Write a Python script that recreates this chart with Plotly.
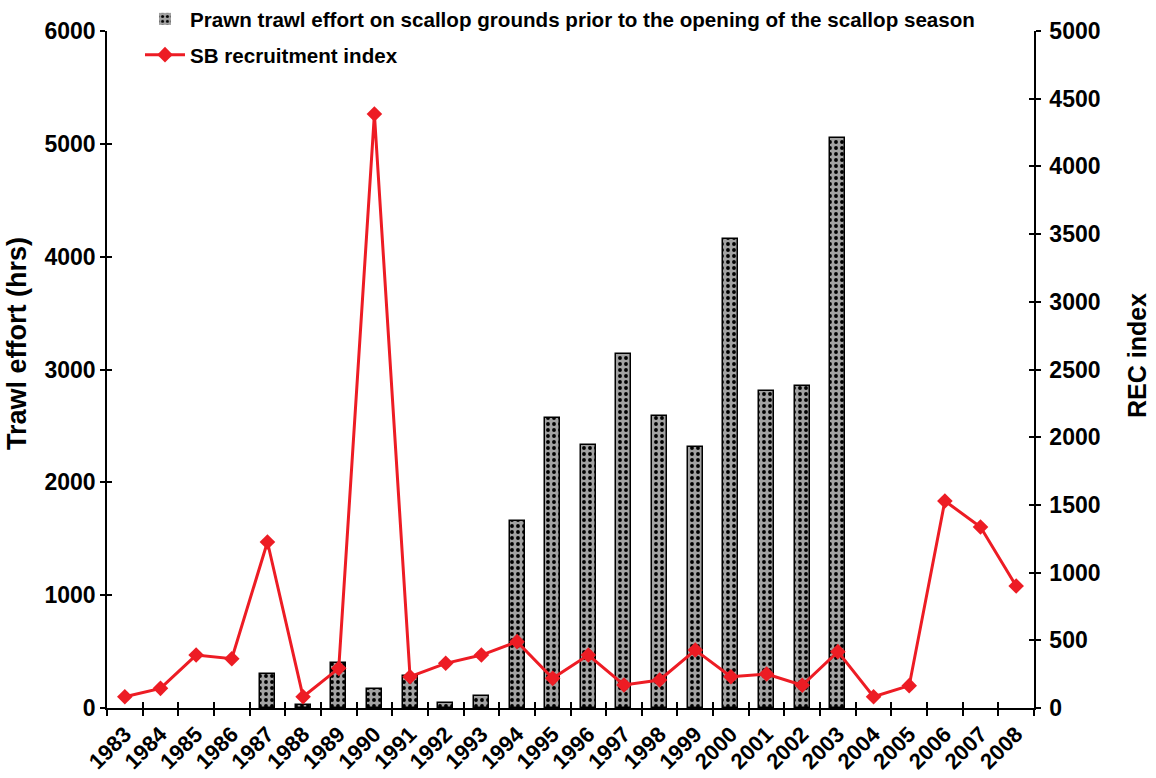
import plotly.graph_objects as go

# Season years
years = list(range(1983, 2009))

# Prawn trawl effort on scallop grounds before season opening (hrs)
trawl_effort = [0, 0, 0, 0, 300, 30, 402, 166, 284, 44, 106, 1657,
                2570, 2331, 3137, 2588, 2313, 4157, 2810, 2854, 5052,
                0, 0, 0, 0, 0]

# SB recruitment index
rec_index = [83, 145, 391, 364, 1226, 83, 293, 4387, 231, 330, 391, 490,
             219, 391, 170, 207, 428, 231, 251, 168, 416, 83, 165, 1529,
             1337, 901]

left_ticks = [0, 1000, 2000, 3000, 4000, 5000, 6000]
right_ticks = [0, 500, 1000, 1500, 2000, 2500, 3000, 3500, 4000, 4500, 5000]
year_labels = [str(y) for y in years]
boundaries = [y - 0.5 for y in years] + [years[-1] + 0.5]

FONT = "Liberation Sans, Arial, sans-serif"
RED = "#ed1c24"
GREY = "#a2a2a2"

# no outline on years without any recorded effort
bar_edge = [0 if v == 0 else 1.5 for v in trawl_effort]

fig = go.Figure()

fig.add_trace(go.Bar(
    x=years, y=trawl_effort, width=0.42,
    name="Prawn trawl effort on scallop grounds prior to the opening of the scallop season",
    marker=dict(
        color=GREY,
        line=dict(color="black", width=bar_edge),
        pattern=dict(shape=".", fgcolor="black", bgcolor=GREY,
                     size=6, solidity=0.32, fillmode="replace"),
    ),
    legendgroup="a",
))

fig.add_trace(go.Scatter(
    x=years, y=rec_index, yaxis="y2", mode="lines+markers",
    name="SB recruitment index",
    line=dict(color=RED, width=3),
    marker=dict(symbol="diamond", size=12, color=RED),
    legendgroup="b",
))

# empty traces so the tick-crossing helper axes get drawn
fig.add_trace(go.Scatter(x=[], y=[], xaxis="x2", yaxis="y3", showlegend=False, hoverinfo="skip"))
fig.add_trace(go.Scatter(x=[], y=[], xaxis="x2", yaxis="y4", showlegend=False, hoverinfo="skip"))

PL, PR, PT, PB = 107, 1034, 31, 708   # plot area edges in pixels
PW, PH = PR - PL, PB - PT

xr = [1982.5, 2008.5]
tickfont = dict(family=FONT, size=23, color="black", weight="bold")
fig.update_layout(
    template="none",
    width=1156, height=778,
    margin=dict(l=PL, r=1156 - PR, t=PT, b=778 - PB, pad=0, autoexpand=False),
    paper_bgcolor="white", plot_bgcolor="white",
    font=dict(family=FONT, color="black"),
    bargap=0,
    showlegend=True,
    legend=dict(
        x=(140 - PL) / PW, y=1 + (PT + 1) / PH,
        xanchor="left", yanchor="top",
        bgcolor="rgba(0,0,0,0)", borderwidth=0,
        font=dict(family=FONT, size=20.6, color="black", weight="bold"),
        itemwidth=40, traceorder="grouped", tracegroupgap=6,
    ),
    xaxis=dict(
        range=xr, tickmode="array", tickvals=years, ticktext=year_labels,
        tickangle=-45, ticks="outside", ticklen=3, tickcolor="rgba(0,0,0,0)",
        showline=True, linecolor="black", linewidth=1.5,
        showgrid=False, zeroline=False, automargin=False,
        tickfont=dict(family=FONT, size=22, color="black", weight="bold"),
        minor=dict(tickmode="array", tickvals=boundaries, ticks="outside",
                   ticklen=6, tickcolor="black", tickwidth=1.5, showgrid=False),
    ),
    xaxis2=dict(
        range=xr, overlaying="x", anchor="y", side="bottom",
        tickmode="array", tickvals=boundaries, ticks="inside", ticklen=6,
        tickcolor="black", tickwidth=1.5, showticklabels=False,
        showline=False, showgrid=False, zeroline=False, automargin=False,
    ),
    yaxis=dict(
        range=[0, 6000], tickmode="array", tickvals=left_ticks,
        ticks="outside", ticklen=5, tickwidth=1.5, tickcolor="black",
        ticklabelstandoff=0,
        showline=True, linecolor="black", linewidth=1.5,
        showgrid=False, zeroline=False, automargin=False,
        tickfont=tickfont,
    ),
    yaxis2=dict(
        range=[0, 5000], overlaying="y", side="right", anchor="x",
        tickmode="array", tickvals=right_ticks,
        ticks="outside", ticklen=5, tickwidth=1.5, tickcolor="black",
        ticklabelstandoff=4,
        showline=True, linecolor="black", linewidth=1.5,
        showgrid=False, zeroline=False, automargin=False,
        tickfont=tickfont,
    ),
    yaxis3=dict(
        range=[0, 6000], overlaying="y", side="left", anchor="x2",
        tickmode="array", tickvals=left_ticks, ticks="inside", ticklen=5,
        tickwidth=1.5, tickcolor="black", showticklabels=False,
        showline=False, showgrid=False, zeroline=False, automargin=False,
    ),
    yaxis4=dict(
        range=[0, 5000], overlaying="y", side="right", anchor="x2",
        tickmode="array", tickvals=right_ticks, ticks="inside", ticklen=5,
        tickwidth=1.5, tickcolor="black", showticklabels=False,
        showline=False, showgrid=False, zeroline=False, automargin=False,
    ),
    annotations=[
        dict(text="Trawl effort (hrs)", textangle=-90, showarrow=False,
             xref="paper", yref="paper", x=(17 - PL) / PW, y=(PB - 344) / PH,
             xanchor="center", yanchor="middle",
             font=dict(family=FONT, size=27, color="black", weight="bold")),
        dict(text="REC index", textangle=-90, showarrow=False,
             xref="paper", yref="paper", x=(1137 - PL) / PW, y=(PB - 356) / PH,
             xanchor="center", yanchor="middle",
             font=dict(family=FONT, size=25, color="black", weight="bold")),
    ],
)

fig.write_html("out.html")
